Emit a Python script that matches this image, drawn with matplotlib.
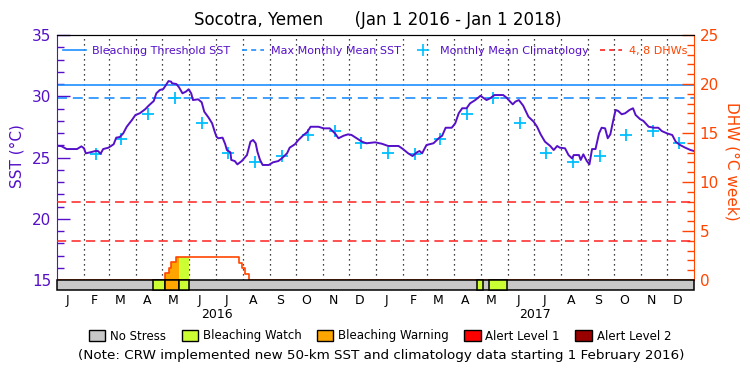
import numpy as np
import matplotlib
matplotlib.use('Agg')
import matplotlib.pyplot as plt
import matplotlib.dates as mdates
import matplotlib.transforms as mtransforms
from matplotlib.lines import Line2D
from matplotlib.patches import Patch, Rectangle
from matplotlib.ticker import FixedLocator
from matplotlib import font_manager as fm

# ---------------- data ----------------
title = "Socotra, Yemen      (Jan 1 2016 - Jan 1 2018)"
start_date = "2016-01-01"
end_date = "2018-01-01"

# daily SST samples: day offset from 2016-01-01, value (deg C)
sst_day = [0, 5, 11, 23, 28, 31, 33, 38, 44, 47, 50, 53, 59, 65, 68, 72, 76, 80, 86, 90,
           95, 101, 106, 111, 114, 118, 122, 125, 128, 131, 132, 137, 140, 144, 148, 151,
           154, 156, 162, 166, 169, 174, 178, 181, 183, 185, 190, 193, 195, 199, 200, 204,
           207, 212, 218, 220, 222, 225, 228, 230, 233, 236, 243, 248, 254, 258, 264, 267,
           273, 277, 283, 287, 291, 300, 306, 313, 319, 323, 329, 334, 338, 344, 350, 355,
           365, 373, 380, 392, 397, 403, 408, 413, 416, 419, 424, 432, 438, 442, 446, 453,
           457, 461, 465, 470, 474, 480, 486, 489, 493, 497, 502, 512, 516, 520, 523, 526,
           530, 535, 541, 547, 551, 555, 560, 566, 570, 574, 577, 583, 587, 591, 593, 599,
           601, 604, 608, 611, 614, 618, 622, 625, 629, 632, 635, 638, 641, 644, 648, 652,
           657, 661, 664, 669, 673, 679, 685, 690, 694, 700, 706, 710, 715, 721, 727, 731]
sst_val = [25.96, 25.93, 25.69, 25.69, 25.91, 25.75, 25.34, 25.42, 25.53, 25.53, 25.31, 25.69,
           25.80, 26.08, 26.62, 26.67, 26.97, 27.51, 28.06, 28.47, 28.61, 28.93, 29.29, 29.61,
           30.24, 30.51, 30.59, 30.92, 31.24, 31.19, 31.06, 31.00, 30.73, 30.24, 30.38, 30.57,
           30.24, 29.69, 29.75, 29.51, 28.74, 28.25, 27.79, 27.10, 26.70, 26.57, 26.62, 26.10,
           25.61, 25.42, 24.80, 24.71, 24.44, 24.71, 25.20, 25.75, 26.29, 26.43, 26.16, 25.47,
           24.80, 24.39, 24.39, 24.61, 24.71, 24.93, 25.34, 25.80, 26.08, 26.43, 26.84, 27.06,
           27.51, 27.51, 27.38, 27.38, 26.97, 26.57, 26.78, 26.89, 26.84, 26.57, 26.29, 26.16,
           26.24, 26.12, 25.94, 25.94, 25.69, 25.34, 25.12, 25.42, 25.53, 25.34, 26.02, 26.16,
           26.57, 26.78, 27.43, 27.43, 27.79, 28.61, 29.02, 29.02, 29.42, 29.69, 30.04, 29.88,
           29.69, 29.83, 30.10, 30.10, 29.88, 29.56, 29.34, 29.56, 29.69, 29.23, 28.33, 27.92,
           27.50, 26.89, 26.29, 25.94, 25.61, 25.94, 25.80, 25.75, 25.20, 24.93, 25.20, 25.20,
           24.80, 25.26, 24.71, 24.44, 25.69, 25.69, 26.97, 27.43, 27.38, 26.57, 26.89, 27.92,
           28.88, 28.80, 28.53, 28.61, 28.88, 29.02, 28.47, 28.14, 27.98, 27.51, 27.43, 27.43,
           27.16, 26.97, 26.84, 26.29, 26.02, 25.80, 25.61, 25.53]

# monthly mean climatology (Jan..Dec), shown from Feb 2016 onwards
clim_months = ["Jan", "Feb", "Mar", "Apr", "May", "Jun", "Jul", "Aug", "Sep", "Oct", "Nov", "Dec"]
clim_val = [25.40, 25.28, 26.51, 28.53, 29.82, 27.84, 25.40, 24.66, 25.12, 26.86, 27.14, 26.22]
clim_first_month = "2016-02"

bleaching_threshold = 30.9
max_monthly_mean = 29.86
dhw_levels = [4, 8]

# degree heating weeks (step series)
dhw_date = ["2016-01-01", "2016-05-04", "2016-05-09", "2016-05-11", "2016-05-16",
            "2016-07-28", "2016-07-31", "2016-08-04", "2016-08-08", "2018-01-01"]
dhw_val = [0, 0.68, 1.26, 1.84, 2.38, 1.77, 1.19, 0.61, 0, 0]

# bleaching alert status periods (level index into status_names)
status_start = ["2016-04-20", "2016-05-04", "2016-05-20", "2017-04-27", "2017-05-11"]
status_end = ["2016-05-04", "2016-05-20", "2016-06-01", "2017-05-04", "2017-05-31"]
status_level = [1, 2, 1, 1, 1]

status_names = ["No Stress", "Bleaching Watch", "Bleaching Warning", "Alert Level 1", "Alert Level 2"]
status_colors = ["#c8c8c8", "#ccff33", "#ffa500", "#ff0000", "#990000"]

month_labels = ["J", "F", "M", "A", "M", "J", "J", "A", "S", "O", "N", "D"]
year_labels = ["2016", "2017"]

legend_labels = ["Bleaching Threshold SST", "Max Monthly Mean SST",
                 "Monthly Mean Climatology", "4, 8 DHWs"]
note = "(Note: CRW implemented new 50-km SST and climatology data starting 1 February 2016)"

# ---------------- style ----------------
PURPLE = "#5510c8"
BLUE = "#1e90ff"
CYAN = "#00bfff"
RED = "#ff2020"
ORANGE = "#ff4500"

names = {f.name for f in fm.fontManager.ttflist}
NUMFONT = "Liberation Sans Narrow" if "Liberation Sans Narrow" in names else "DejaVu Sans"
plt.rcParams['font.family'] = ['DejaVu Sans']

def dnum(s):
    return mdates.date2num(np.datetime64(s, 'D'))

base = dnum(start_date)
x0, x1 = base, dnum(end_date)

W, H = 750, 375
fig = plt.figure(figsize=(W / 100, H / 100), dpi=100)
L, R, T, B = 57, 694, 35, 290
bar_px = 10
ax = fig.add_axes([L / W, 1 - B / H, (R - L) / W, (B - T) / H])
bar_frac = bar_px / (B - T)

ax.set_xlim(x0, x1)
ylo = 15 - bar_frac * (35 - 15) / (1 - bar_frac)
ax.set_ylim(ylo, 35)
ax2 = ax.twinx()
ax2.set_xlim(x0, x1)
ylo2 = 0 - bar_frac * (25 - 0) / (1 - bar_frac)
ax2.set_ylim(ylo2, 25)

# spines
for a in (ax, ax2):
    a.spines['bottom'].set_visible(False)
    a.spines['top'].set_color('black')
ax.spines['right'].set_visible(False)
ax2.spines['left'].set_visible(False)
ax.spines['left'].set_color(PURPLE)
ax.spines['left'].set_bounds(15, 35)
ax2.spines['right'].set_color(ORANGE)
ax2.spines['right'].set_bounds(0, 25)

# ticks
ax.set_yticks(range(15, 36, 5))
ax.yaxis.set_minor_locator(FixedLocator(range(15, 36)))
ax.tick_params(axis='y', which='major', direction='in', length=9, width=1,
               color=PURPLE, labelcolor=PURPLE, labelsize=11, pad=4)
ax.tick_params(axis='y', which='minor', direction='in', length=5, width=1, color=PURPLE)
ax2.set_yticks(range(0, 26, 5))
ax2.yaxis.set_minor_locator(FixedLocator(range(0, 26)))
ax2.tick_params(axis='y', which='major', direction='in', length=9, width=1,
                color=ORANGE, labelcolor=ORANGE, labelsize=11, pad=4)
ax2.tick_params(axis='y', which='minor', direction='in', length=5, width=1, color=ORANGE)
for lab in ax.get_yticklabels() + ax2.get_yticklabels():
    lab.set_fontfamily(NUMFONT)

months = np.arange(start_date[:7], end_date[:7], dtype='datetime64[M]')
month_pos = mdates.date2num(months.astype('datetime64[D]')) + 12
ax.set_xticks(month_pos)
ax.set_xticklabels(month_labels * (len(months) // 12))
ax.tick_params(axis='x', length=0, pad=3, labelsize=9)
ax2.tick_params(axis='x', length=0, labelbottom=False)

trans = mtransforms.blended_transform_factory(ax.transData, ax.transAxes)
trans2 = mtransforms.blended_transform_factory(ax2.transData, ax2.transAxes)

# month separators
for m in months[1:]:
    ax.axvline(mdates.date2num(m.astype('datetime64[D]')), ymin=bar_frac, ymax=1,
               color='black', lw=0.9, ls=(0, (1, 3)), zorder=1)

# year labels
years = np.arange(start_date[:4], end_date[:4], dtype='datetime64[Y]')
for y, lab in zip(years, year_labels):
    ys = mdates.date2num(y.astype('datetime64[D]'))
    ye = mdates.date2num((y + 1).astype('datetime64[D]'))
    ax.text((ys + ye) / 2, -25 / (B - T), lab, transform=trans, ha='center', va='center',
            fontsize=9)

# reference lines
ax.axhline(bleaching_threshold, color=BLUE, lw=1.2, zorder=2)
ax.axhline(max_monthly_mean, color=BLUE, lw=1.2, ls=(0, (6, 3.5)), zorder=2)
for lv in dhw_levels:
    ax2.axhline(lv, color=RED, lw=1.1, ls=(0, (6, 3.5)), zorder=2)

# climatology
cm = np.arange(clim_first_month, end_date[:7], dtype='datetime64[M]')
cx = mdates.date2num(cm.astype('datetime64[D]')) + 14
cy = [clim_val[int(str(m)[5:7]) - 1] for m in cm]
ax.plot(cx, cy, ls='none', marker='+', ms=9, mew=1.3, color=CYAN, zorder=3)

# SST
sx = base + np.array(sst_day, dtype=float)
ax.plot(sx, sst_val, color=PURPLE, lw=1.4, zorder=4)

# DHW
dx = np.array([dnum(d) for d in dhw_date])
dv = np.array(dhw_val, dtype=float)
xs = np.arange(x0, x1 + 1)
dd = dv[np.searchsorted(dx, xs, side='right') - 1]
for s, e, lv in zip(status_start, status_end, status_level):
    mask = (xs >= dnum(s)) & (xs <= dnum(e))
    ax2.fill_between(xs, 0, dd, where=mask, step='post', color=status_colors[lv],
                     lw=0, zorder=4)
ax2.plot(dx, dv, drawstyle='steps-post', color=ORANGE, lw=1.2, zorder=5)

# status bar
ax2.add_patch(Rectangle((x0, 0), x1 - x0, bar_frac, transform=trans2, fc=status_colors[0],
                        ec='black', lw=1.1, zorder=10, clip_on=False))
for s, e, lv in zip(status_start, status_end, status_level):
    ax2.add_patch(Rectangle((dnum(s), 0), dnum(e) - dnum(s), bar_frac, transform=trans2,
                            fc=status_colors[lv], ec='black', lw=1.1, zorder=11, clip_on=False))

# top legend
hs = [Line2D([], [], color=BLUE, lw=1.2),
      Line2D([], [], color=BLUE, lw=1.2, ls=(0, (3, 2.5))),
      Line2D([], [], color=CYAN, marker='+', ls='none', ms=8, mew=1.2),
      Line2D([], [], color=RED, lw=1.2, ls=(0, (3, 2.5)))]
leg = ax2.legend(hs, legend_labels, ncol=4, loc='center', bbox_to_anchor=(0.5, 1 - 16 / (B - T)),
                 frameon=False, fontsize=8, handlelength=2, handletextpad=0.6,
                 columnspacing=1.0, borderaxespad=0, borderpad=0)
for t, c in zip(leg.get_texts(), [PURPLE, PURPLE, PURPLE, ORANGE]):
    t.set_color(c)

# axis labels
fig.text(17 / W, 1 - 156 / H, "SST (°C)", rotation=90, ha='center', va='center',
         color=PURPLE, fontsize=11)
fig.text(732 / W, 1 - 161 / H, "DHW (°C week)", rotation=270, ha='center', va='center',
         color=ORANGE, fontsize=11)

# title
fig.text(378 / W, 1 - 20 / H, title, ha='center', va='center', fontsize=12)

# status legend
ph = [Patch(fc=c, ec='black', lw=1) for c in status_colors]
fig.legend(ph, status_names, ncol=5, loc='center', bbox_to_anchor=(380 / W, 1 - 336 / H),
           frameon=False, fontsize=8.5, handlelength=1.4, handleheight=0.95,
           handletextpad=0.4, columnspacing=1.3, borderpad=0, borderaxespad=0)

fig.text(381 / W, 1 - 356 / H, note, ha='center', va='center', fontsize=9.7)

fig.savefig("out.png", dpi=100)
